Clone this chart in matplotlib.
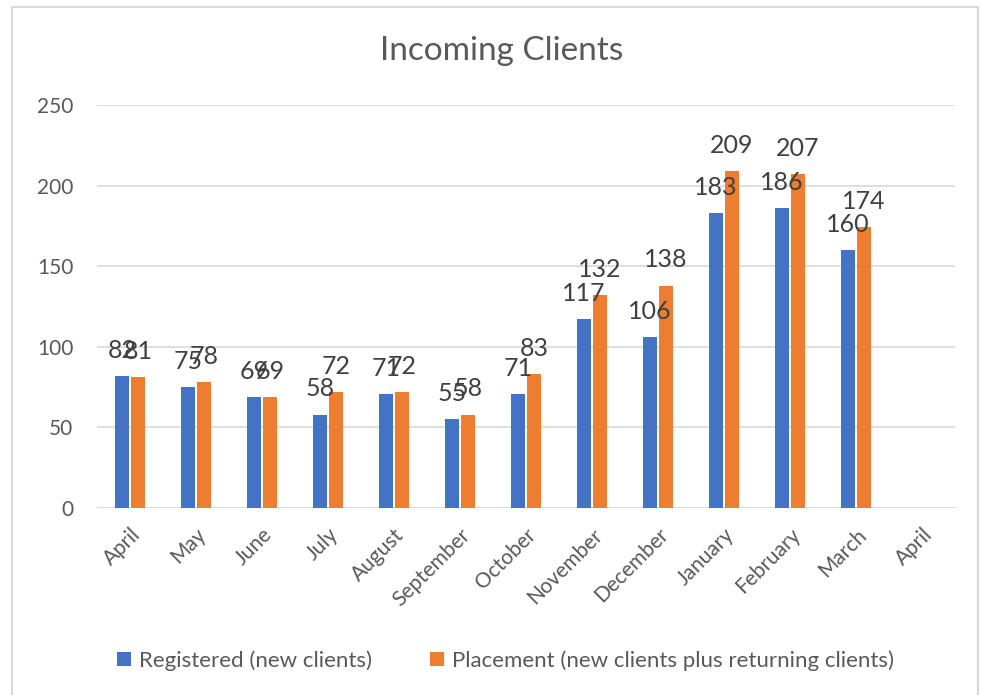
import numpy as np
import matplotlib
matplotlib.use("Agg")
import matplotlib.pyplot as plt
from matplotlib.patches import Rectangle

plt.rcParams.update({
    "font.family": ["Lato", "DejaVu Sans"],
    "text.color": "#595959",
    "axes.labelcolor": "#595959",
    "xtick.color": "#595959",
    "ytick.color": "#595959",
})

months = ["April", "May", "June", "July", "August", "September", "October",
          "November", "December", "January", "February", "March", "April"]
registered = [82, 75, 69, 58, 71, 55, 71, 117, 106, 183, 186, 160]
placement = [81, 78, 69, 72, 72, 58, 83, 132, 138, 209, 207, 174]

BLUE = "#4472C4"
ORANGE = "#ED7D31"

fig = plt.figure(figsize=(9.86, 6.95), dpi=100)
fig.patches.append(Rectangle((12 / 986, -0.05), 966 / 986, 1.04,
                             transform=fig.transFigure, fill=False,
                             edgecolor="#D9D9D9", linewidth=1.5))
ax = fig.add_axes([0.0984, 0.269, 0.8702, 0.580])

x = np.arange(len(months))
w = 0.21
xr = x[:len(registered)]
b1 = ax.bar(xr - 0.12, registered, w, color=BLUE, label="Registered (new clients)", zorder=3)
b2 = ax.bar(xr + 0.12, placement, w, color=ORANGE,
            label="Placement (new clients plus returning clients)", zorder=3)

for bars in (b1, b2):
    for bar in bars:
        h = bar.get_height()
        ax.annotate(f"{h:.0f}", (bar.get_x() + bar.get_width() / 2, h),
                    xytext=(0, 13), textcoords="offset points",
                    ha="center", va="baseline", fontsize=18, color="#404040", zorder=4)

ax.set_xlim(-0.5, len(months) - 0.5)
ax.set_ylim(0, 250)
ax.set_yticks(range(0, 251, 50))
ax.set_xticks(x)
ax.set_xticklabels(months, rotation=45, ha="right", rotation_mode="anchor", fontsize=15)
ax.tick_params(axis="x", length=0, pad=12)
ax.tick_params(axis="y", length=0, pad=17, labelsize=15)
ax.grid(axis="y", color="#D9D9D9", linewidth=1.2, zorder=0)
for s in ax.spines.values():
    s.set_visible(False)
ax.axhline(0, color="#D9D9D9", linewidth=1.2, zorder=2)

fig.text(0.509, 0.927, "Incoming Clients", ha="center", va="center", fontsize=24, color="#595959")

fig.legend(loc="center", bbox_to_anchor=(0.513, 0.05), ncol=2, frameon=False,
           fontsize=16, handlelength=0.6, handleheight=0.6, columnspacing=2.6,
           handletextpad=0.4)

fig.savefig("out.png", dpi=100)
